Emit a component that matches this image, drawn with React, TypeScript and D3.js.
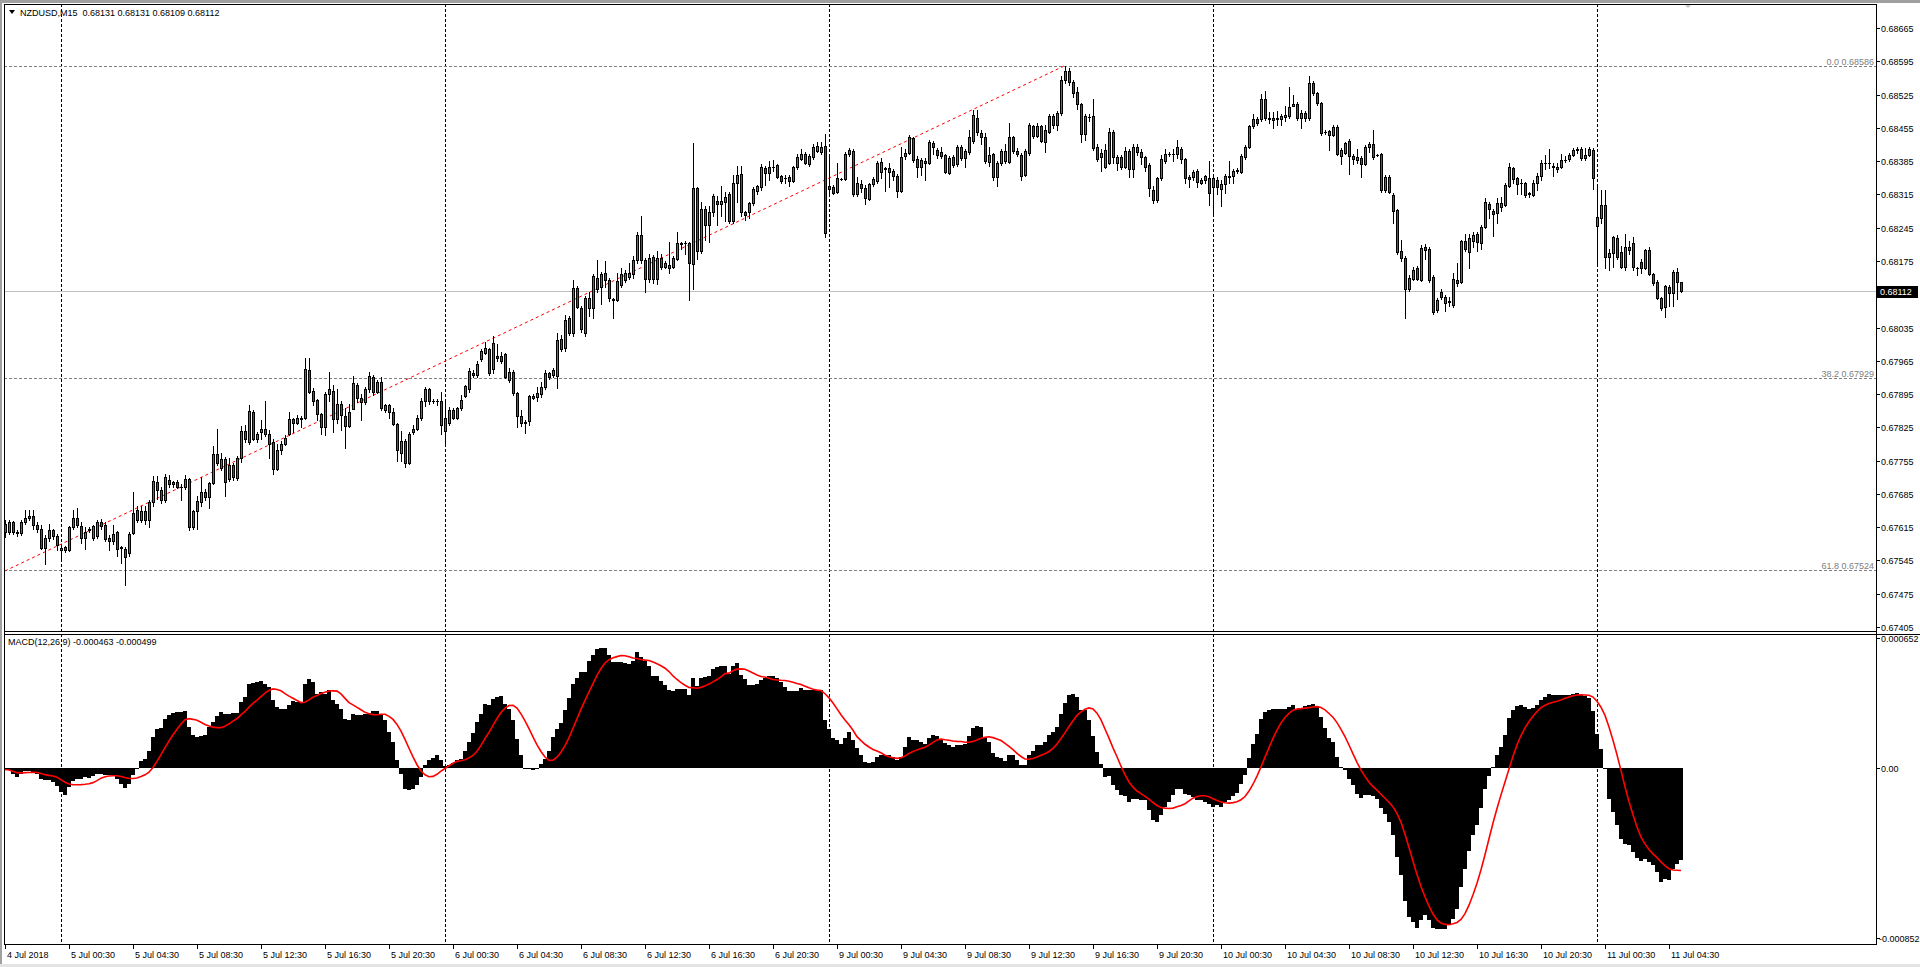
import React from 'react';
import * as d3 from 'd3';

// ---------- DATA ----------
// Prices are stored in points above BASE (price = BASE + v * POINT)
const BASE = 0.67;
const POINT = 0.00001;

// [open, high, low, close] per M15 bar
const JUL4: number[][] = [
  [622,630,595,604],[604,630,600,625],[625,628,600,605],[605,610,596,603],[603,630,598,626],[626,652,622,635],[635,652,630,638],[638,652,612,620],[620,625,605,612],[612,620,570,572],
  [572,598,537,592],[592,622,585,610],[610,612,590,596],[596,600,567,577],
];
const JUL5: number[][] = [
  [568,575,549,572],[567,575,563,573],[567,618,565,616],[616,652,612,634],[634,655,615,620],[618,625,582,592],[592,615,570,605],[608,615,604,611],[592,620,588,617],[597,630,592,625],
  [625,632,612,617],[620,625,585,590],[592,598,568,585],[585,620,580,600],[605,607,555,570],[573,575,539,572],[570,573,493,552],[560,605,555,600],[603,688,600,644],[652,660,625,630],
  [630,660,626,650],[650,660,622,630],[630,672,616,668],[668,722,660,713],[710,722,675,694],[694,700,665,672],[672,726,668,720],[714,725,700,706],[706,712,700,709],[709,714,697,699],
  [699,705,672,700],[700,724,696,716],[716,718,608,615],[615,652,612,650],[650,680,612,670],[668,720,660,688],[688,695,672,678],[678,710,656,707],[707,786,705,768],[768,822,745,750],
  [740,770,735,758],[758,763,680,711],[716,760,712,745],[745,750,715,720],[718,765,714,760],[760,828,752,818],[818,830,795,800],[795,872,790,860],[858,862,798,800],[800,815,795,810],
  [815,840,800,822],[822,880,806,810],[810,820,760,790],[795,800,726,738],[738,790,735,777],[777,796,768,790],[790,808,788,803],[810,858,808,842],[842,845,815,835],[835,850,832,845],
  [845,848,825,843],[845,970,843,948],[945,970,898,900],[902,908,872,880],[882,885,840,852],[852,855,810,825],[825,900,808,895],[895,942,880,905],[902,915,815,842],[842,905,835,875],
  [875,880,820,850],[848,865,781,828],[828,875,826,858],[864,932,864,918],[914,918,878,886],[886,895,840,878],[878,910,875,905],[905,942,900,932],[930,935,892,900],[900,925,898,920],
  [920,930,862,865],[862,875,858,872],[872,875,845,858],[858,865,830,832],[832,835,755,777],[770,818,755,796],[796,800,742,750],[750,815,748,810],[815,830,812,822],[822,850,820,845],
  [845,887,840,880],[880,910,870,905],[905,908,875,880],[880,884,877,881],[880,885,873,880],[880,900,810,830],
];
const JUL6: number[][] = [
  [818,880,790,844],[835,868,830,862],[862,865,842,845],[845,868,842,866],[866,893,862,882],[890,915,888,912],[906,950,900,943],[940,945,930,935],[935,964,930,958],[968,990,965,985],
  [982,1005,980,992],[990,992,935,940],[947,1018,940,1003],[975,1000,965,970],[974,984,960,965],[980,982,928,931],[925,950,920,942],[942,946,892,898],[898,900,826,849],[848,862,828,834],
  [835,840,814,837],[838,892,830,890],[887,895,885,891],[888,910,880,898],[895,920,888,910],[910,945,905,940],[940,942,926,930],[935,950,930,945],[932,1023,908,1009],[1010,1020,985,989],
  [991,1061,985,1051],[1055,1060,1020,1023],[1024,1135,1018,1119],[1119,1122,1075,1079],[1077,1080,1026,1031],[1024,1102,1018,1098],[1075,1110,1060,1098],[1075,1148,1054,1143],[1140,1177,1110,1117],[1120,1152,1085,1147],
  [1150,1175,1120,1135],[1135,1140,1090,1098],[1096,1098,1055,1092],[1093,1150,1090,1133],[1125,1160,1120,1147],[1135,1157,1130,1149],[1141,1170,1136,1150],[1148,1185,1140,1178],[1177,1235,1170,1230],[1230,1270,1170,1177],
  [1178,1182,1110,1136],[1136,1190,1130,1182],[1184,1188,1128,1138],[1138,1195,1127,1182],[1182,1190,1158,1163],[1163,1175,1160,1170],[1167,1215,1150,1160],[1163,1185,1160,1182],[1180,1235,1178,1213],[1212,1215,1200,1211],
  [1212,1216,1190,1212],[1212,1215,1093,1170],[1168,1424,1115,1328],[1328,1330,1180,1195],[1196,1300,1192,1284],[1284,1290,1220,1250],[1250,1290,1215,1278],[1278,1315,1270,1311],[1302,1312,1250,1295],[1295,1332,1270,1302],
  [1300,1320,1260,1310],[1315,1320,1255,1258],[1258,1355,1255,1338],[1338,1375,1300,1355],[1357,1375,1270,1277],[1278,1280,1262,1271],[1278,1300,1265,1296],[1296,1330,1292,1326],[1322,1335,1315,1332],[1330,1378,1325,1372],
  [1371,1375,1335,1360],[1361,1385,1345,1372],[1372,1388,1365,1373],[1376,1378,1350,1352],[1354,1356,1340,1344],[1350,1355,1340,1350],[1352,1356,1333,1344],[1344,1375,1342,1372],[1372,1400,1368,1393],[1390,1410,1387,1400],
  [1400,1405,1378,1380],[1378,1400,1375,1395],[1393,1420,1390,1415],[1406,1425,1404,1416],[1405,1425,1400,1415],[1417,1442,1225,1234],
];
const JUL9: number[][] = [
  [1333,1398,1318,1326],[1330,1335,1315,1318],[1320,1380,1318,1349],[1348,1350,1346,1348],[1348,1405,1345,1400],[1400,1412,1396,1408],[1407,1410,1312,1316],[1316,1352,1312,1340],[1337,1345,1320,1328],[1328,1335,1295,1307],
  [1305,1340,1303,1336],[1336,1352,1333,1347],[1344,1385,1340,1380],[1362,1392,1350,1384],[1368,1372,1322,1370],[1370,1382,1330,1363],[1364,1368,1345,1354],[1354,1358,1310,1323],[1322,1415,1320,1394],[1396,1410,1390,1403],
  [1403,1440,1400,1435],[1433,1435,1384,1387],[1389,1395,1352,1372],[1372,1392,1355,1387],[1380,1392,1345,1386],[1380,1430,1378,1425],[1424,1428,1400,1414],[1408,1412,1392,1398],[1405,1415,1392,1396],[1397,1400,1360,1363],
  [1361,1395,1358,1391],[1393,1398,1373,1377],[1378,1418,1375,1414],[1414,1418,1388,1392],[1391,1410,1372,1407],[1405,1450,1400,1435],[1428,1492,1424,1482],[1475,1492,1440,1447],[1444,1450,1420,1435],[1436,1445,1380,1385],
  [1384,1415,1375,1398],[1400,1402,1345,1351],[1352,1385,1332,1380],[1380,1410,1376,1407],[1385,1420,1382,1407],[1384,1465,1380,1435],[1435,1438,1402,1407],[1407,1412,1395,1400],[1398,1402,1345,1354],[1356,1410,1354,1406],
  [1402,1465,1398,1460],[1459,1462,1434,1437],[1437,1465,1435,1459],[1459,1462,1425,1428],[1426,1462,1405,1450],[1447,1485,1445,1480],[1480,1485,1455,1460],[1461,1490,1450,1487],[1487,1565,1483,1556],[1556,1586,1550,1574],
  [1574,1580,1545,1552],[1552,1556,1520,1529],[1530,1540,1495,1505],[1505,1508,1425,1443],[1442,1485,1430,1480],[1478,1485,1470,1478],[1480,1516,1408,1412],[1415,1420,1385,1390],[1394,1410,1365,1402],[1372,1420,1370,1408],
  [1380,1455,1378,1447],[1447,1450,1380,1393],[1380,1398,1366,1393],[1393,1398,1368,1373],[1373,1415,1370,1407],[1407,1410,1352,1368],[1368,1420,1352,1415],[1415,1420,1398,1405],[1405,1410,1378,1393],[1393,1396,1365,1373],
  [1377,1380,1312,1328],[1325,1332,1296,1303],[1303,1352,1300,1349],[1349,1397,1345,1389],[1385,1410,1380,1400],[1400,1405,1395,1401],[1400,1410,1385,1401],[1401,1430,1392,1415],[1411,1415,1380,1389],[1389,1392,1340,1349],
  [1347,1355,1330,1351],[1351,1366,1345,1362],[1365,1368,1330,1342],[1340,1350,1336,1346],[1345,1356,1340,1353],[1350,1385,1293,1317],
];
const JUL10: number[][] = [
  [1330,1355,1269,1349],[1345,1352,1315,1330],[1327,1345,1290,1336],[1336,1358,1318,1354],[1352,1385,1340,1353],[1353,1368,1338,1364],[1364,1370,1360,1366],[1363,1400,1360,1396],[1393,1418,1390,1414],[1414,1462,1412,1459],
  [1459,1485,1455,1474],[1474,1478,1462,1466],[1473,1527,1470,1515],[1515,1533,1472,1475],[1474,1488,1465,1476],[1471,1488,1455,1475],[1473,1490,1462,1475],[1474,1485,1460,1480],[1478,1500,1470,1481],[1480,1540,1476,1498],
  [1501,1525,1500,1506],[1506,1510,1471,1475],[1475,1492,1455,1487],[1487,1490,1470,1475],[1475,1565,1472,1549],[1549,1553,1525,1528],[1528,1530,1503,1507],[1507,1510,1440,1445],[1446,1450,1442,1447],[1448,1450,1408,1440],
  [1440,1460,1437,1457],[1457,1460,1398,1400],[1396,1412,1378,1408],[1402,1426,1400,1424],[1428,1432,1357,1395],[1396,1400,1378,1389],[1388,1410,1380,1394],[1391,1395,1352,1378],[1378,1418,1376,1415],[1414,1425,1405,1422],
  [1420,1450,1390,1394],[1398,1400,1395,1397],[1400,1403,1320,1324],[1324,1355,1320,1351],[1352,1356,1318,1321],[1313,1318,1254,1281],[1282,1285,1190,1194],[1196,1220,1175,1182],[1182,1185,1054,1115],[1115,1145,1112,1140],
  [1138,1163,1135,1157],[1160,1165,1135,1138],[1135,1208,1132,1203],[1205,1210,1180,1198],[1201,1205,1130,1135],[1142,1145,1063,1068],[1072,1097,1068,1093],[1110,1115,1095,1100],[1100,1103,1070,1087],[1090,1100,1080,1089],
  [1082,1150,1078,1136],[1135,1170,1122,1128],[1130,1220,1128,1217],[1217,1232,1195,1201],[1194,1232,1160,1224],[1217,1235,1205,1229],[1231,1235,1195,1214],[1212,1250,1200,1247],[1247,1308,1244,1300],[1295,1300,1265,1284],
  [1281,1285,1228,1274],[1275,1308,1255,1296],[1289,1310,1280,1296],[1292,1340,1290,1335],[1333,1380,1330,1373],[1370,1372,1340,1347],[1349,1352,1316,1337],[1340,1348,1316,1340],[1339,1342,1310,1314],[1318,1320,1310,1316],
  [1314,1345,1312,1340],[1340,1360,1325,1354],[1353,1388,1345,1382],[1381,1397,1368,1382],[1382,1410,1370,1382],[1373,1380,1353,1374],[1368,1380,1362,1373],[1373,1400,1370,1387],[1387,1395,1383,1388],[1389,1402,1385,1398],
  [1398,1412,1395,1408],[1408,1415,1403,1410],[1410,1415,1388,1391],[1391,1412,1388,1398],[1398,1415,1395,1410],[1408,1412,1326,1350],
];
const JUL11: number[][] = [
  [1248,1335,1170,1267],[1265,1325,1255,1293],[1293,1325,1160,1183],[1183,1200,1155,1191],[1192,1228,1162,1225],[1223,1230,1180,1184],[1194,1206,1160,1163],[1163,1232,1155,1205],[1198,1218,1190,1205],[1212,1225,1155,1163],
  [1160,1163,1145,1160],[1173,1180,1150,1161],[1161,1200,1158,1197],[1197,1205,1145,1148],[1148,1150,1125,1128],[1130,1135,1094,1098],[1098,1100,1072,1077],[1078,1125,1058,1122],[1121,1124,1080,1107],[1107,1155,1080,1152],
  [1152,1160,1095,1131],[1131,1131,1109,1112],
];

// MACD(12,26,9) main values, in millionths
const MACD_JUL4 = [-7,-12,-28,-45,-28,-17,-17,-20,-28,-53,-62,-62,-70,-90];
const MACD_JUL5 = [
  -120,-137,-95,-67,-53,-53,-45,-48,-40,-28,
  -28,-33,-33,-37,-53,-78,-100,-78,-33,-3,
  33,43,88,155,197,200,244,264,277,280,
  280,284,205,164,155,159,164,205,230,260,
  280,272,272,276,277,331,356,423,427,431,
  434,423,406,339,306,297,294,317,334,331,
  331,423,444,431,372,381,372,389,339,322,
  294,244,239,272,267,264,272,276,284,284,
  267,239,180,130,38,-28,-103,-112,-107,-87,
  -45,13,42,50,67,38,
];
const MACD_JUL6 = [
  10,17,27,38,43,88,130,177,230,272,
  322,314,347,356,361,322,297,239,147,63,
  -3,-7,-8,-3,22,47,88,155,197,225,
  290,350,420,451,481,484,539,568,598,601,
  601,568,534,534,534,528,523,539,584,556,
  539,514,464,461,434,414,389,384,397,397,
  397,364,451,411,451,456,464,498,506,511,
  514,473,514,526,468,448,418,418,423,439,
  451,464,464,451,431,406,384,384,384,401,
  389,389,389,389,389,239,
];
const MACD_JUL9 = [
  197,150,139,122,150,180,139,100,63,30,
  27,30,55,67,67,67,55,38,55,105,
  155,139,139,130,122,150,164,160,144,127,
  117,105,114,114,122,160,200,210,205,155,
  130,77,55,50,33,63,63,38,13,17,
  67,88,114,114,130,167,180,205,272,327,
  367,371,356,289,289,239,160,80,22,-45,
  -40,-83,-112,-137,-142,-170,-154,-154,-162,-162,
  -212,-262,-271,-237,-195,-170,-137,-104,-104,-129,
  -137,-145,-162,-162,-170,-179,
];
const MACD_JUL10 = [
  -195,-187,-195,-170,-162,-140,-124,-78,-33,50,
  122,172,244,281,289,294,294,294,294,306,
  317,297,297,311,317,322,311,255,200,150,
  130,55,5,-12,-53,-87,-129,-150,-137,-134,
  -140,-154,-200,-229,-271,-337,-446,-538,-668,-746,
  -771,-802,-763,-735,-763,-802,-805,-808,-805,-785,
  -758,-705,-596,-508,-418,-337,-284,-200,-104,-40,
  5,63,105,167,250,289,311,317,306,294,
  301,317,339,356,372,367,364,364,364,364,
  372,376,367,361,351,284,
];
const MACD_JUL11 = [
  172,97,-3,-154,-220,-287,-354,-379,-387,-421,
  -451,-468,-454,-471,-488,-521,-571,-558,-561,-508,
  -480,-463,
];
const MACD_UNIT = 0.000001;
const SIGNAL_PERIOD = 9;

const PRICE_TICKS = [0.68665,0.68595,0.68525,0.68455,0.68385,0.68315,0.68245,0.68175,0.68105,0.68035,0.67965,0.67895,0.67825,0.67755,0.67685,0.67615,0.67545,0.67475,0.67405];
const PRICE_DOMAIN = [0.67405, 0.68665];
const MACD_TICKS = [0.000652, 0, -0.000852];
const MACD_TICK_LABELS = ['0.000652', '0.00', '-0.000852'];

const TIME_LABELS = ['4 Jul 2018','5 Jul 00:30','5 Jul 04:30','5 Jul 08:30','5 Jul 12:30','5 Jul 16:30','5 Jul 20:30','6 Jul 00:30','6 Jul 04:30','6 Jul 08:30','6 Jul 12:30','6 Jul 16:30','6 Jul 20:30','9 Jul 00:30','9 Jul 04:30','9 Jul 08:30','9 Jul 12:30','9 Jul 16:30','9 Jul 20:30','10 Jul 00:30','10 Jul 04:30','10 Jul 08:30','10 Jul 12:30','10 Jul 16:30','10 Jul 20:30','11 Jul 00:30','11 Jul 04:30'];
const TIME_LABEL_BARS = [0,16,32,48,64,80,96,112,128,144,160,176,192,208,224,240,256,272,288,304,320,336,352,368,384,400,416];
const DAY_START_BARS = [14,110,206,302,398];

const FIB_LEVELS = [
  { label: '0.0', value: 0.68586 },
  { label: '38.2', value: 0.67929 },
  { label: '61.8', value: 0.67524 },
];
const TREND_FROM = { bar: 0, price: 0.67523 };
const TREND_TO = { bar: 265, price: 0.68586 };

const SYMBOL = 'NZDUSD,M15';
const LAST_OHLC = ['0.68131', '0.68131', '0.68109', '0.68112'];
const LAST_PRICE = 0.68112;
const MACD_TITLE = 'MACD(12,26,9)';
const MACD_LAST = ['-0.000463', '-0.000499'];

// ---------- LAYOUT ----------
const W = 1920, H = 967;
const L = 4, R = 1876;
const MAIN_T = 4, MAIN_B = 631;
const MACD_T = 634, MACD_B = 944;
const FONT = "'Liberation Sans', Arial, sans-serif";
const BULL = '#2e8b57';
const BEAR = '#dc143c';

export default function App() {
  const candles = [...JUL4, ...JUL5, ...JUL6, ...JUL9, ...JUL10, ...JUL11].map((d) => ({
    o: BASE + d[0] * POINT, h: BASE + d[1] * POINT, l: BASE + d[2] * POINT, c: BASE + d[3] * POINT,
  }));
  const macd = [...MACD_JUL4, ...MACD_JUL5, ...MACD_JUL6, ...MACD_JUL9, ...MACD_JUL10, ...MACD_JUL11].map((v) => v * MACD_UNIT);
  const signal = macd.map((_, i) => d3.mean(macd.slice(Math.max(0, i - SIGNAL_PERIOD + 1), i + 1)) as number);

  const n = candles.length;
  const x = d3.scaleLinear().domain([0, n - 1]).range([5, 5 + 4 * (n - 1)]);
  const y = d3.scaleLinear().domain(PRICE_DOMAIN).range([627, 28]);
  const ym = d3.scaleLinear().domain([-0.000852, 0.000652]).range([938, 638]);

  const signalPath = d3.line<number>().x((_, i) => x(i)).y((v) => ym(v))(signal) || '';
  const ry = (v: number) => Math.round(v);

  const textStyle: React.CSSProperties = { fontFamily: FONT, fontSize: 9, whiteSpace: 'pre' };

  return (
    <svg width={W} height={H} style={{ position: 'absolute', left: 0, top: 0, background: '#fff' }}>
      <defs>
        <clipPath id="mainClip"><rect x={L + 1} y={MAIN_T + 1} width={R - L - 1} height={MAIN_B - MAIN_T - 1} /></clipPath>
        <clipPath id="macdClip"><rect x={L + 1} y={MACD_T + 1} width={R - L - 1} height={MACD_B - MACD_T - 1} /></clipPath>
      </defs>
      <rect x={0} y={0} width={W} height={H} fill="#ffffff" />
      <rect x={0} y={0} width={W} height={3} fill="#a0a0a0" />
      <rect x={0} y={0} width={2} height={H} fill="#a0a0a0" />
      <rect x={0} y={964} width={W} height={3} fill="#e4e4e4" />

      {/* ---- MAIN PANEL ---- */}
      <g clipPath="url(#mainClip)" shapeRendering="crispEdges">
        {DAY_START_BARS.map((b) => (
          <line key={'vg' + b} x1={x(b) + 0.5} x2={x(b) + 0.5} y1={MAIN_T} y2={MAIN_B} stroke="#000" strokeDasharray="3,2" />
        ))}
        {FIB_LEVELS.map((f) => (
          <line key={'fib' + f.label} x1={L} x2={R} y1={ry(y(f.value)) + 0.5} y2={ry(y(f.value)) + 0.5} stroke="#808080" strokeDasharray="3,2" />
        ))}
        <line x1={L} x2={R} y1={ry(y(LAST_PRICE)) + 0.5} y2={ry(y(LAST_PRICE)) + 0.5} stroke="#c0c0c0" />
      </g>
      <g clipPath="url(#mainClip)">
        <line x1={x(TREND_FROM.bar)} y1={y(TREND_FROM.price)} x2={x(TREND_TO.bar)} y2={y(TREND_TO.price)} stroke="#ff0000" strokeDasharray="3,3" strokeWidth={1} />
      </g>
      <g clipPath="url(#mainClip)" shapeRendering="crispEdges">
        {candles.map((d, i) => {
          const cx = Math.round(x(i));
          const top = ry(y(Math.max(d.o, d.c)));
          const bot = ry(y(Math.min(d.o, d.c)));
          const hi = ry(y(Math.max(d.h, d.o, d.c)));
          const lo = ry(y(Math.min(d.l, d.o, d.c)));
          const bull = d.c >= d.o;
          return (
            <g key={'c' + i}>
              <line x1={cx + 0.5} x2={cx + 0.5} y1={hi} y2={lo + 1} stroke="#000" />
              {bot - top >= 1 ? (
                <rect x={cx - 0.5} y={top + 0.5} width={2} height={bot - top} fill={bull ? BULL : BEAR} stroke="#000" />
              ) : (
                <line x1={cx - 1} x2={cx + 2} y1={top + 0.5} y2={top + 0.5} stroke="#000" />
              )}
            </g>
          );
        })}
      </g>
      {FIB_LEVELS.map((f) => (
        <text key={'fibt' + f.label} x={R - 2} y={ry(y(f.value)) - 1} textAnchor="end" fill="#808080" style={textStyle}>
          {f.label + ' ' + f.value.toFixed(5)}
        </text>
      ))}

      {/* header */}
      <path d="M9,10 L15,10 L12,14 Z" fill="#000" />
      <text x={20} y={16} fill="#000" style={textStyle}>{SYMBOL + '  ' + LAST_OHLC.join(' ')}</text>
      <path d="M1684,4 L1692,4 L1688,8 Z" fill="#c8c8c8" />

      {/* ---- MACD PANEL ---- */}
      <g clipPath="url(#macdClip)" shapeRendering="crispEdges">
        {DAY_START_BARS.map((b) => (
          <line key={'vgm' + b} x1={x(b) + 0.5} x2={x(b) + 0.5} y1={MACD_T} y2={MACD_B} stroke="#000" strokeDasharray="3,2" />
        ))}
        {macd.map((v, i) => {
          const cx = Math.round(x(i));
          const y0 = ry(ym(0));
          const y1 = ry(ym(v));
          return (
            <rect key={'m' + i} x={cx - 2} y={Math.min(y0, y1)} width={4} height={Math.max(1, Math.abs(y1 - y0))} fill="#000" />
          );
        })}
      </g>
      <g clipPath="url(#macdClip)">
        <path d={signalPath} fill="none" stroke="#ff0000" strokeWidth={1.6} />
      </g>
      <text x={8} y={645} fill="#000" style={textStyle}>{MACD_TITLE + ' ' + MACD_LAST.join(' ')}</text>

      {/* ---- FRAMES ---- */}
      <g shapeRendering="crispEdges" stroke="#000">
        <line x1={L} x2={R + 1} y1={MAIN_T + 0.5} y2={MAIN_T + 0.5} />
        <line x1={L + 0.5} x2={L + 0.5} y1={MAIN_T} y2={MACD_B + 1} />
        <line x1={R + 0.5} x2={R + 0.5} y1={MAIN_T} y2={MACD_B + 1} />
        <line x1={L} x2={R + 1} y1={MAIN_B + 0.5} y2={MAIN_B + 0.5} />
        <line x1={L} x2={W} y1={MACD_T + 0.5} y2={MACD_T + 0.5} />
        <line x1={L} x2={R + 1} y1={MACD_B + 0.5} y2={MACD_B + 0.5} />
      </g>

      {/* price axis */}
      <g shapeRendering="crispEdges">
        {PRICE_TICKS.map((t) => (
          <line key={'pt' + t} x1={R} x2={R + 4} y1={ry(y(t)) + 0.5} y2={ry(y(t)) + 0.5} stroke="#000" />
        ))}
      </g>
      {PRICE_TICKS.map((t) => (
        <text key={'ptl' + t} x={R + 5} y={ry(y(t)) + 3.5} fill="#000" style={textStyle}>{t.toFixed(5)}</text>
      ))}
      <rect x={R + 1} y={ry(y(LAST_PRICE)) - 5} width={41} height={12} fill="#000" shapeRendering="crispEdges" />
      <text x={R + 4} y={ry(y(LAST_PRICE)) + 4} fill="#fff" style={textStyle}>{LAST_PRICE.toFixed(5)}</text>

      {/* macd axis */}
      <g shapeRendering="crispEdges">
        {MACD_TICKS.map((t) => (
          <line key={'mt' + t} x1={R} x2={R + 4} y1={ry(ym(t)) + 0.5} y2={ry(ym(t)) + 0.5} stroke="#000" />
        ))}
      </g>
      {MACD_TICKS.map((t, i) => (
        <text key={'mtl' + t} x={t < 0 ? R + 3 : R + 5} y={ry(ym(t)) + 3.5} fill="#000" style={textStyle}>{MACD_TICK_LABELS[i]}</text>
      ))}

      {/* time axis */}
      <g shapeRendering="crispEdges">
        {TIME_LABEL_BARS.map((b) => (
          <line key={'tt' + b} x1={Math.round(x(b)) + 0.5} x2={Math.round(x(b)) + 0.5} y1={MACD_B} y2={MACD_B + 5} stroke="#000" />
        ))}
      </g>
      {TIME_LABELS.map((s, i) => (
        <text key={'tl' + i} x={Math.round(x(TIME_LABEL_BARS[i])) + 2} y={958} fill="#000" style={textStyle}>{s}</text>
      ))}
    </svg>
  );
}
